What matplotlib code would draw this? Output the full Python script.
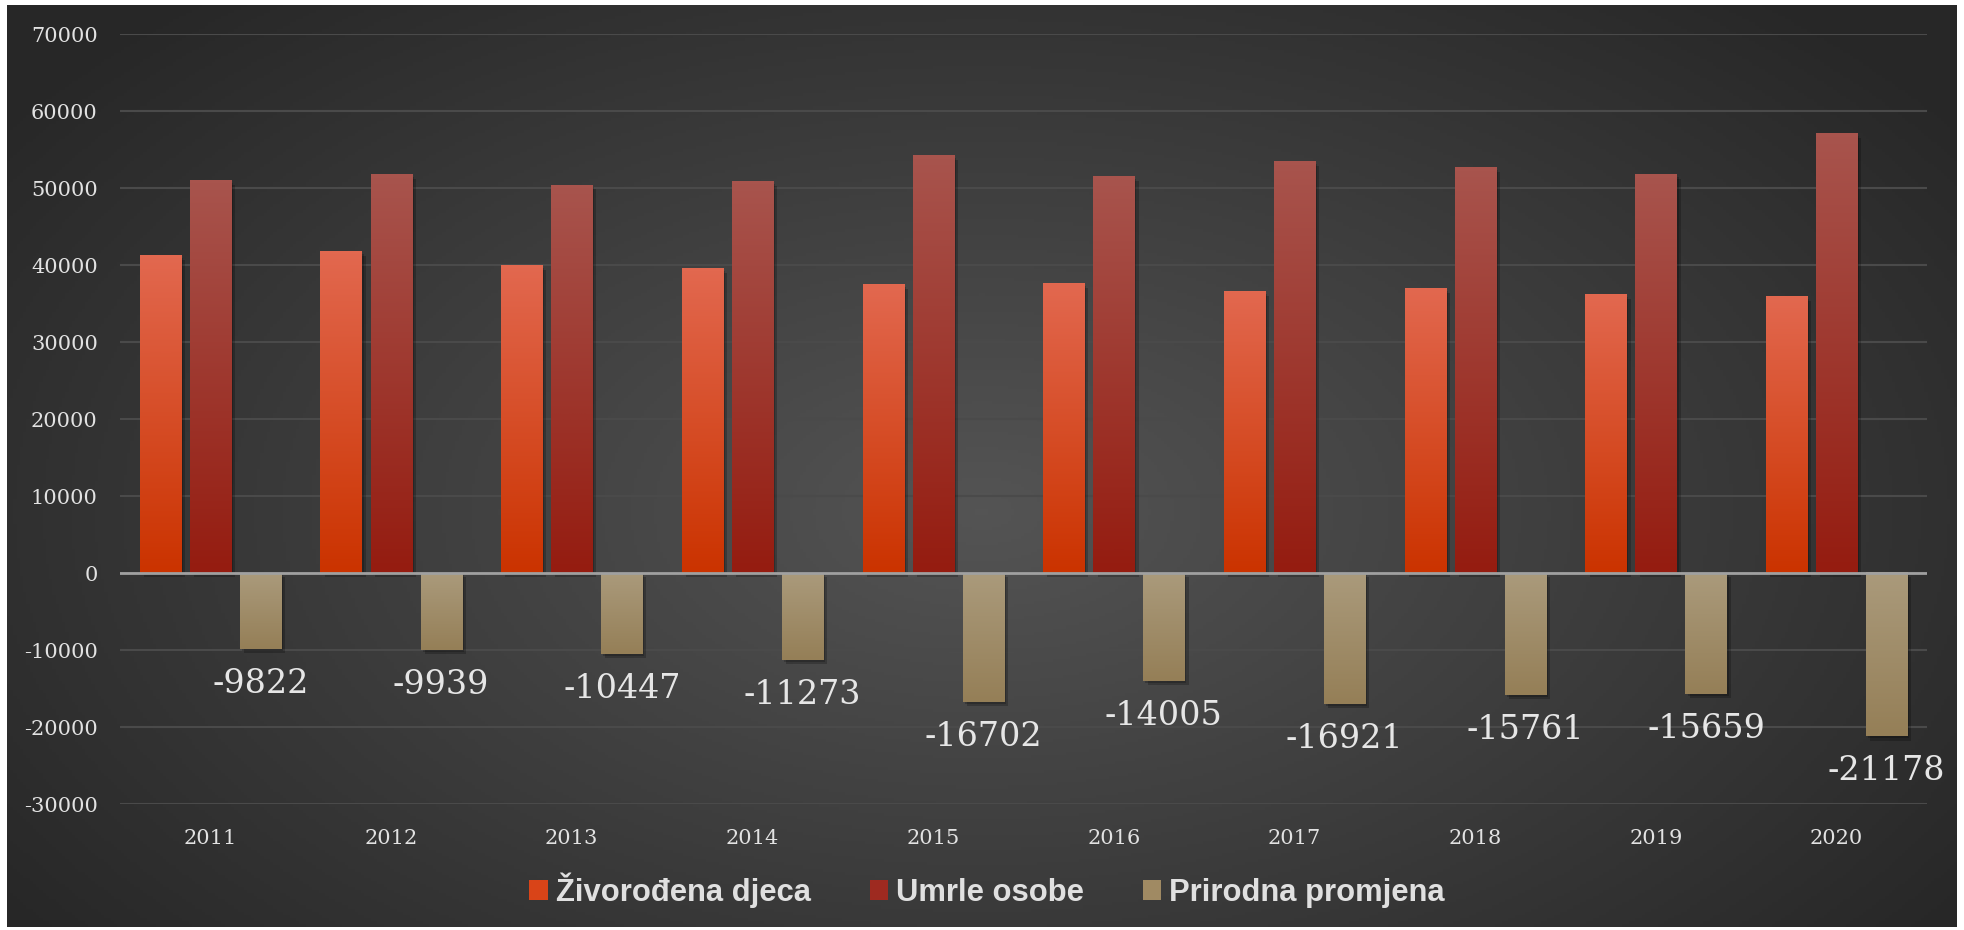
import numpy as np
import matplotlib
matplotlib.use('Agg')
import matplotlib.pyplot as plt
import matplotlib.patheffects as pe
from matplotlib.colors import LinearSegmentedColormap
from matplotlib.patches import Patch

plt.rcParams['axes.unicode_minus'] = False

# podaci
godine = ['2011', '2012', '2013', '2014', '2015', '2016', '2017', '2018', '2019', '2020']
zivorodeni = [41197, 41771, 39939, 39566, 37503, 37537, 36556, 36945, 36135, 35845]
umrli = [51019, 51710, 50386, 50839, 54205, 51542, 53477, 52706, 51794, 57023]
promjena = [-9822, -9939, -10447, -11273, -16702, -14005, -16921, -15761, -15659, -21178]
nazivi = ['Živorođena djeca', 'Umrle osobe', 'Prirodna promjena']

W, H = 1965, 930
fig = plt.figure(figsize=(W / 100, H / 100), dpi=100)
fig.patch.set_facecolor('white')

# tamna pozadina s radijalnim prijelazom
bg = fig.add_axes([7 / W, 3 / H, 1950 / W, 922 / H], zorder=-10)
yy, xx = np.mgrid[0:1:300j, 0:1:600j]
r = np.sqrt(((xx - 0.5) / 0.62) ** 2 + ((yy - 0.55) / 0.75) ** 2)
bg_cmap = LinearSegmentedColormap.from_list('bg', ['#545454', '#272727'])
bg.imshow(np.clip(r, 0, 1), cmap=bg_cmap, aspect='auto', extent=[0, 1, 0, 1])
bg.axis('off')

ax = fig.add_axes([120 / W, 1 - 804.3 / H, 1807 / W, 770 / H])
ax.set_facecolor('none')

x = np.arange(len(godine))
w = 0.227
off = 0.277
serije = [
    (zivorodeni, -off, '#E2684F', '#CB3300'),
    (umrli, 0.0, '#A8544D', '#951C10'),
    (promjena, off, '#AA9A7B', '#957F57'),
]

col = np.linspace(1, 0, 100).reshape(-1, 1)
for vals, dx, light, dark in serije:
    bars = ax.bar(x + dx, vals, w, color=dark, zorder=3,
                  path_effects=[pe.SimplePatchShadow(offset=(3, -3), shadow_rgbFace='black', alpha=0.22),
                                pe.SimplePatchShadow(offset=(1.5, -1.5), shadow_rgbFace='black', alpha=0.2),
                                pe.Normal()])
    cmap = LinearSegmentedColormap.from_list('g', [dark, light])
    for b in bars:
        x0 = b.get_x()
        y0, y1 = sorted([b.get_y(), b.get_y() + b.get_height()])
        ax.imshow(col, cmap=cmap, aspect='auto', extent=[x0, x0 + b.get_width(), y0, y1],
                  zorder=4, interpolation='bilinear')

# oznake prirodne promjene
for xi, v in zip(x + off, promjena):
    ax.annotate(str(v), (xi, v), xytext=(0, -35), textcoords='offset pixels',
                ha='center', va='center', fontsize=24, family='DejaVu Serif', color='#e6e6e6')

ax.set_xlim(-0.5, len(godine) - 0.5)
ax.set_ylim(-30000, 70000)
ax.set_yticks(np.arange(-30000, 70001, 10000))
ax.set_xticks(x)
ax.set_xticklabels(godine)
ax.yaxis.grid(True, color='#4a4a4a', linewidth=1.5, zorder=0)
ax.set_axisbelow(True)
ax.axhline(0, color='#a0a0a0', linewidth=2, zorder=5)
for s in ax.spines.values():
    s.set_visible(False)
ax.tick_params(length=0, colors='#e2e2e2', labelsize=15)
ax.tick_params(axis='y', pad=16)
ax.tick_params(axis='x', pad=18)
for t in ax.get_xticklabels() + ax.get_yticklabels():
    t.set_family('DejaVu Serif')

handles = [Patch(facecolor=c) for c in ['#D94418', '#9E2A20', '#A08A63']]
fig.legend(handles, nazivi, loc='center', bbox_to_anchor=(987 / W, 1 - 890 / H), ncol=3,
           frameon=False, handlelength=0.6, handleheight=0.6, handletextpad=0.25,
           columnspacing=1.9, prop={'family': 'Liberation Sans', 'weight': 'bold', 'size': 22.3},
           labelcolor='#e0e0e0')

fig.savefig('out.png', dpi=100)
